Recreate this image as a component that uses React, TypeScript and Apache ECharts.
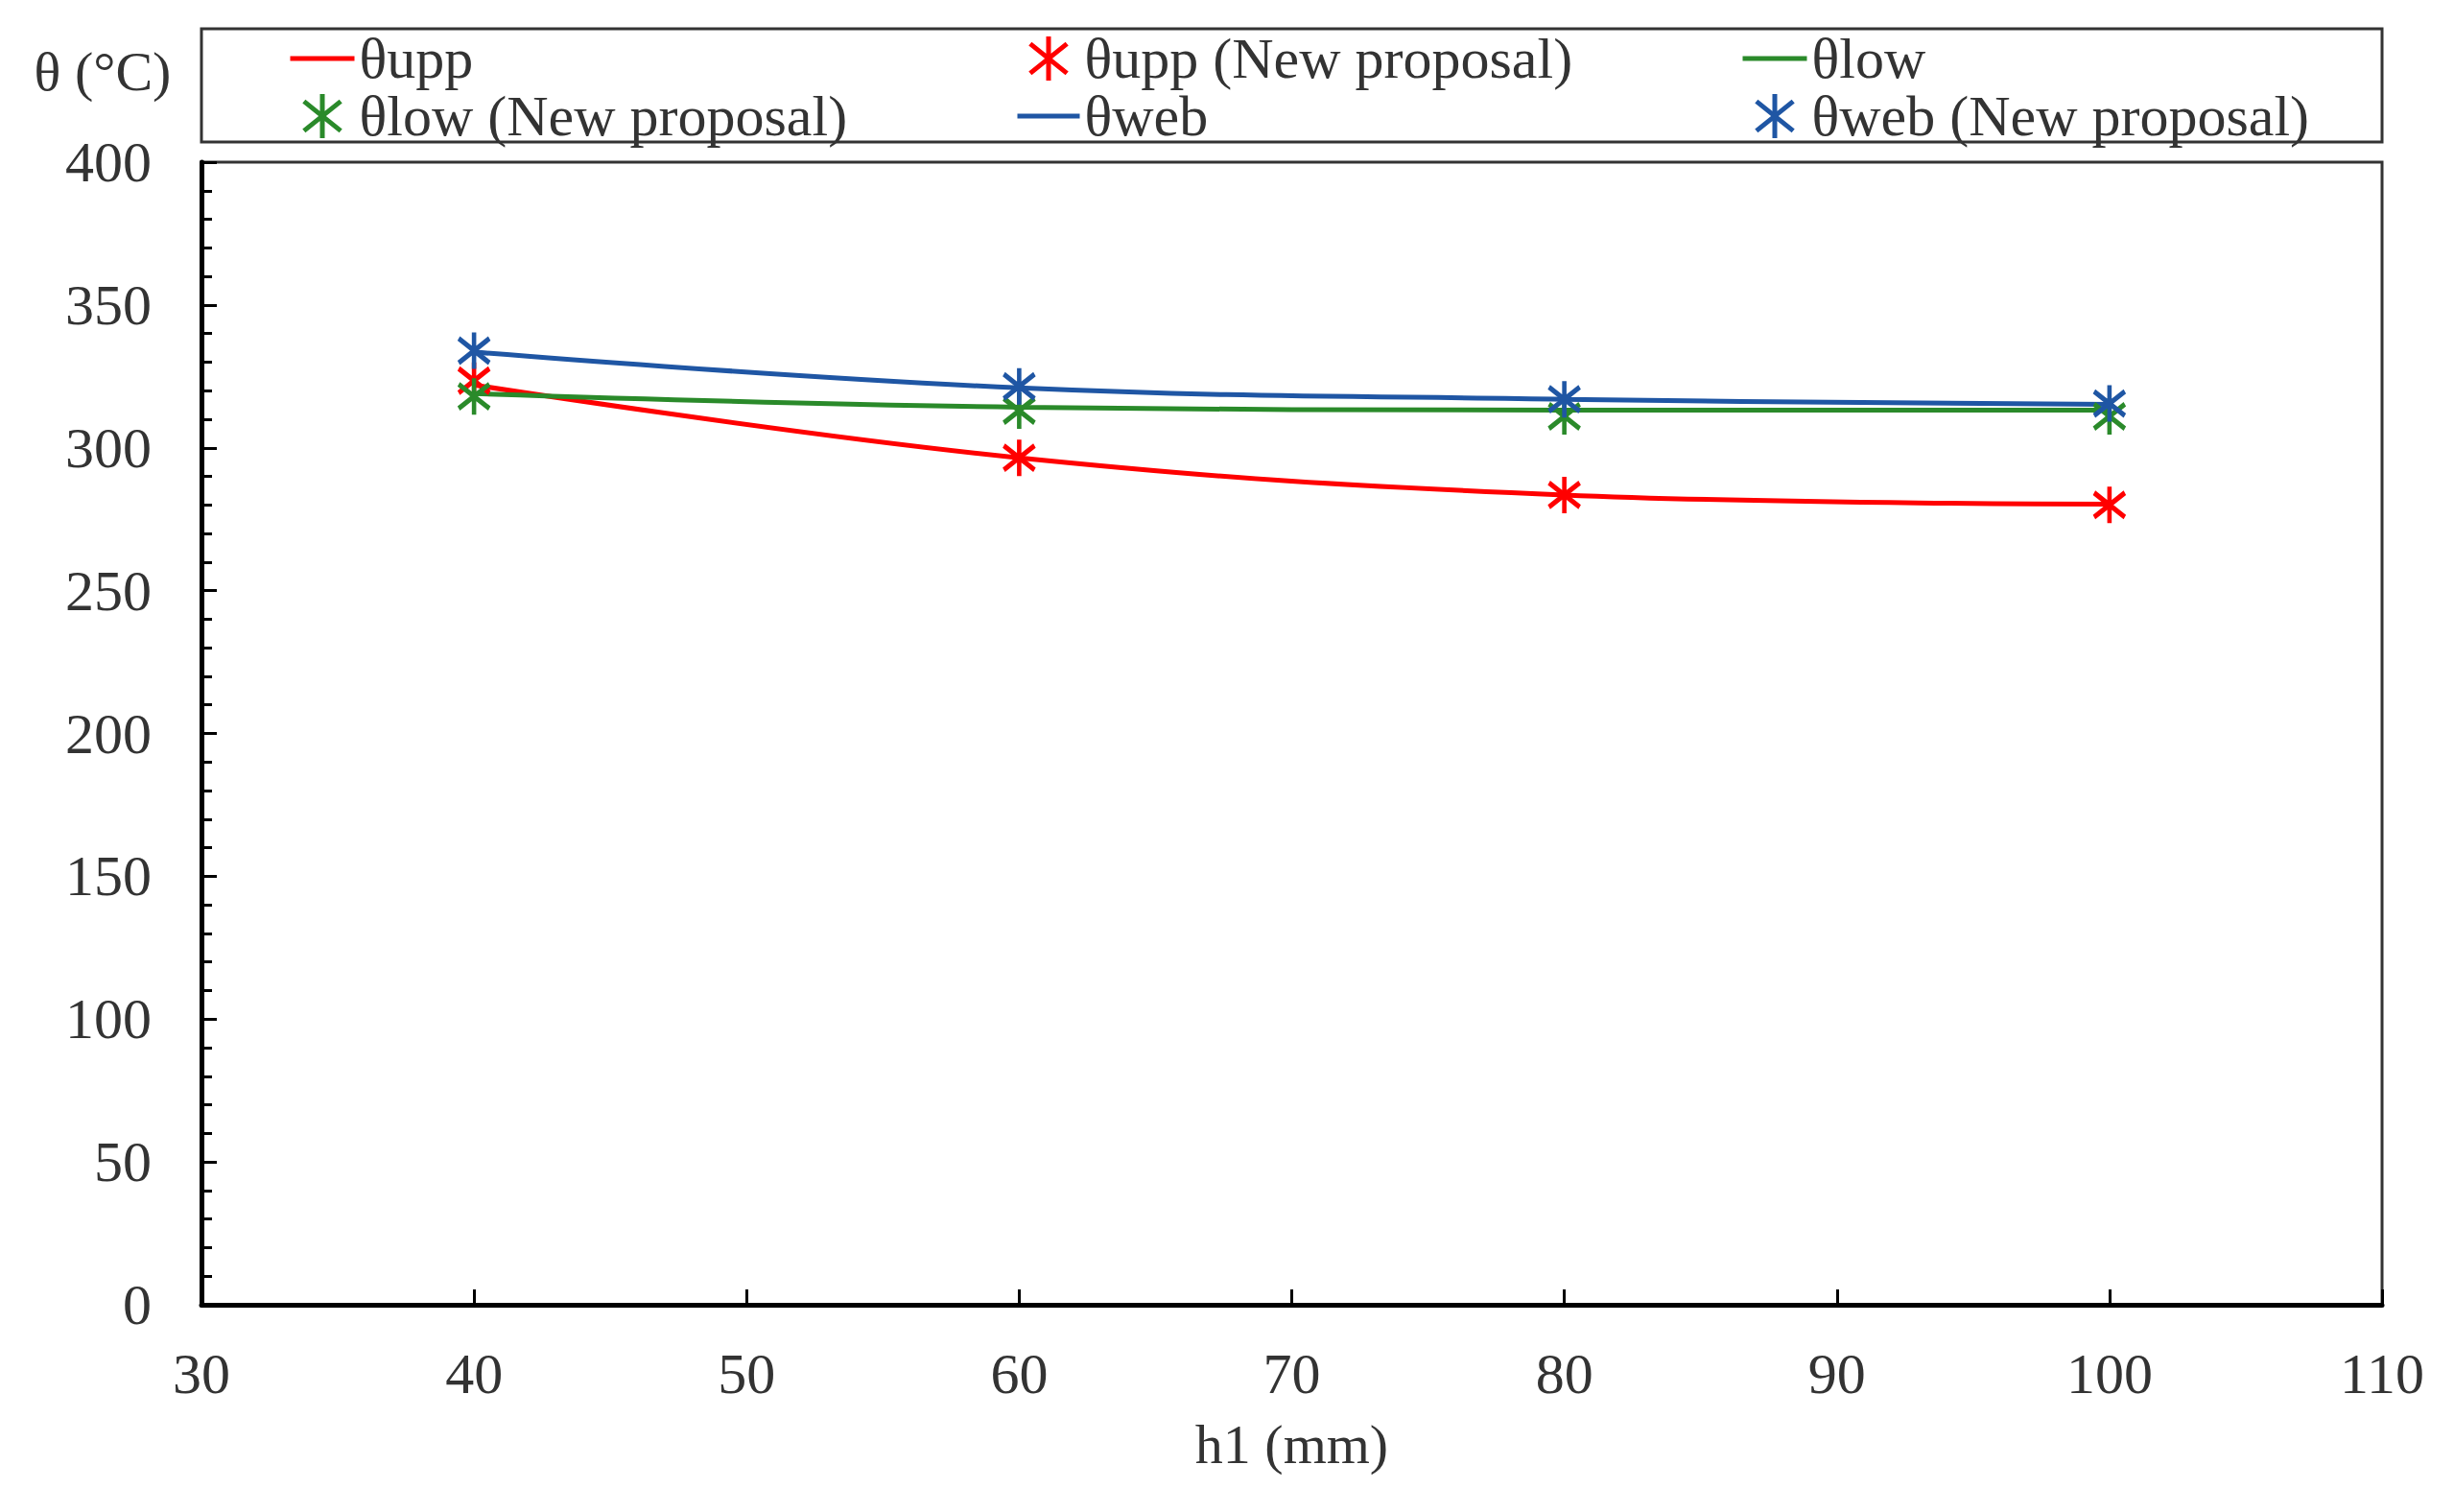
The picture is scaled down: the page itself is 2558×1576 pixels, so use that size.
import React, { useEffect, useRef } from "react";
import * as echarts from "echarts";

const xValues = [40, 60, 80, 100];
const uppLine = [322, 296.5, 283.5, 280.3];
const uppNew = [323.5, 296.5, 283.5, 280];
const lowLine = [319, 314.2, 313.2, 313.2];
const lowNew = [318, 313, 311, 311];
const webLine = [333.5, 321, 317, 315.2];
const webNew = [334, 321.5, 317, 315.5];

const names = {
  uppLine: "θupp",
  uppNew: "θupp (New proposal)",
  lowLine: "θlow",
  lowNew: "θlow (New proposal)",
  webLine: "θweb",
  webNew: "θweb (New proposal)",
};

const RED = "#FF0000";
const GREEN = "#2A8A2A";
const BLUE = "#1F56A4";
const STAR = "path://M10,0L10,24M0,4L20,20M0,20L20,4";
const FONT = '"Liberation Serif", "Times New Roman", serif';
const TXT = "#333333";

const pairs = (ys: number[]) => xValues.map((x, i) => [x, ys[i]]);

export default function App() {
  const ref = useRef<HTMLDivElement>(null);
  useEffect(() => {
    if (!ref.current) return;
    const chart = echarts.init(ref.current, null, { renderer: "svg" });
    const lineSeries = (name: string, ys: number[], color: string) => ({
      name,
      type: "line",
      data: pairs(ys),
      smooth: 0.4,
      symbol: "none",
      lineStyle: { color, width: 5 },
      itemStyle: { color },
      z: 2,
    });
    const starSeries = (name: string, ys: number[], color: string) => ({
      name,
      type: "scatter",
      data: pairs(ys),
      symbol: STAR,
      symbolSize: [32, 38],
      itemStyle: { color: "rgba(0,0,0,0)", borderColor: color, borderWidth: 5, opacity: 1 },
      z: 3,
    });
    const lineItem = (name: string, color: string) => ({
      name,
      itemStyle: { opacity: 0 },
      lineStyle: { width: 5, color },
    });
    const starItem = (name: string, color: string) => ({
      name,
      itemStyle: { color: "rgba(0,0,0,0)", borderColor: color, borderWidth: 5, opacity: 1 },
    });
    const legendBase = {
      orient: "vertical",
      top: 26,
      itemHeight: 46,
      itemGap: 0,
      textStyle: { fontSize: 60, fontFamily: FONT, color: TXT, lineHeight: 54 },
      symbolKeepAspect: true,
    };
    chart.setOption({
      animation: false,
      backgroundColor: "#ffffff",
      textStyle: { fontFamily: FONT },
      grid: {
        left: 210,
        top: 169,
        right: 75,
        bottom: 216,
        show: true,
        borderColor: "#333333",
        borderWidth: 3,
        backgroundColor: "transparent",
      },
      legend: [
        {
          ...legendBase,
          left: 295,
          itemWidth: 67,
          data: [lineItem(names.uppLine, RED), starItem(names.lowNew, GREEN)],
        },
        {
          ...legendBase,
          left: 1053,
          itemWidth: 65,
          data: [starItem(names.uppNew, RED), lineItem(names.webLine, BLUE)],
        },
        {
          ...legendBase,
          left: 1809,
          itemWidth: 67,
          data: [lineItem(names.lowLine, GREEN), starItem(names.webNew, BLUE)],
        },
      ],
      xAxis: {
        type: "value",
        min: 30,
        max: 110,
        interval: 10,
        name: "h1 (mm)",
        nameLocation: "middle",
        nameGap: 116,
        nameTextStyle: { fontSize: 58, fontFamily: FONT, color: TXT },
        axisLine: { show: true, lineStyle: { color: "#000", width: 5 } },
        axisTick: { show: true, inside: true, length: 16, lineStyle: { color: "#000", width: 3 } },
        axisLabel: { fontSize: 60, fontFamily: FONT, color: TXT, margin: 42 },
        splitLine: { show: false },
      },
      yAxis: {
        type: "value",
        min: 0,
        max: 400,
        interval: 50,
        axisLine: { show: true, lineStyle: { color: "#000", width: 5 } },
        axisTick: { show: true, inside: true, length: 16, lineStyle: { color: "#000", width: 3 } },
        minorTick: { show: true, splitNumber: 5, length: 11, lineStyle: { color: "#000", width: 3 } },
        axisLabel: { fontSize: 60, fontFamily: FONT, color: TXT, margin: 52 },
        splitLine: { show: false },
      },
      graphic: [
        {
          type: "rect",
          shape: { x: 210, y: 30, width: 2273, height: 118 },
          style: { fill: "transparent", stroke: "#333333", lineWidth: 3 },
          silent: true,
        },
        {
          type: "text",
          x: 107,
          y: 74,
          style: {
            text: "θ (°C)",
            font: `58px ${FONT}`,
            fill: TXT,
            align: "center",
            verticalAlign: "middle",
          },
        },
      ],
      series: [
        lineSeries(names.uppLine, uppLine, RED),
        starSeries(names.uppNew, uppNew, RED),
        lineSeries(names.lowLine, lowLine, GREEN),
        starSeries(names.lowNew, lowNew, GREEN),
        lineSeries(names.webLine, webLine, BLUE),
        starSeries(names.webNew, webNew, BLUE),
      ],
    });
    return () => chart.dispose();
  }, []);
  return (
    <div
      ref={ref}
      style={{ position: "absolute", left: 0, top: 0, width: 2558, height: 1576, background: "#fff" }}
    />
  );
}
